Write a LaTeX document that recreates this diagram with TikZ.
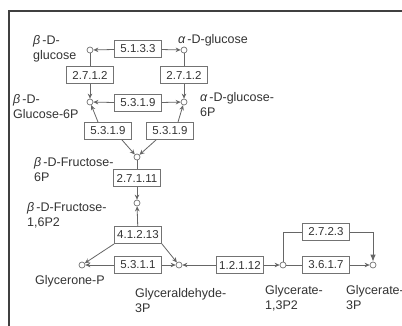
\documentclass[tikz,border=0pt]{standalone}
\usepackage{fontspec}
\setmainfont{Liberation Sans}
\usetikzlibrary{arrows.meta}
\begin{document}
\begin{tikzpicture}[x=1pt,y=-1pt,
  cpd/.style={circle,draw=black!55,line width=0.7pt,fill=white,minimum size=6pt,inner sep=0pt},
  enz/.style={draw=black!55,line width=0.9pt,fill=white,minimum width=47pt,minimum height=17pt,inner sep=0pt,font=\fontsize{11.5}{13}\selectfont,text=black!80},
  lbl/.style={inner sep=0pt,align=left,font=\fontsize{12.5}{15}\selectfont,text=black!80},
  rx/.style={draw=black!60,line width=0.8pt},
  arr/.style={-{Stealth[length=5pt,width=4.5pt]}},
]
\useasboundingbox (0,0) rectangle (402,325);
\clip (0,0) rectangle (402,325);
\fill[white] (0,0) rectangle (402,325);
\draw[black!75,line width=1.5pt] (9,11) rectangle (430,350);

% compounds
\node[cpd] (bglc) at (90,50) {};
\node[cpd] (aglc) at (184,50) {};
\node[cpd] (bg6p) at (90,102) {};
\node[cpd] (ag6p) at (184,102) {};
\node[cpd] (f6p) at (137,157) {};
\node[cpd] (fbp) at (137,203) {};
\node[cpd] (gnp) at (82,265) {};
\node[cpd] (gap) at (179,265) {};
\node[cpd] (bpg) at (283,265) {};
\node[cpd] (g3p) at (373,265) {};

% enzymes
\node[enz] (e5133) at (138,49) {5.1.3.3};
\node[enz] (e2712a) at (90,75) {2.7.1.2};
\node[enz] (e2712b) at (184,75) {2.7.1.2};
\node[enz] (e5319a) at (138,103) {5.3.1.9};
\node[enz] (e5319b) at (108,131) {5.3.1.9};
\node[enz] (e5319c) at (170,131) {5.3.1.9};
\node[enz] (e27111) at (137,178) {2.7.1.11};
\node[enz] (e41213) at (138,235) {4.1.2.13};
\node[enz] (e5311) at (138,265) {5.3.1.1};
\node[enz] (e12112) at (240,265) {1.2.1.12};
\node[enz] (e3617) at (326,265) {3.6.1.7};
\node[enz] (e2723) at (326,232) {2.7.2.3};

% reactions
\draw[rx,arr] (e5133) -- (bglc);
\draw[rx,arr] (e5133) -- (aglc);
\draw[rx] (bglc) -- (e2712a);
\draw[rx,arr] (e2712a) -- (bg6p);
\draw[rx] (aglc) -- (e2712b);
\draw[rx,arr] (e2712b) -- (ag6p);
\draw[rx,arr] (e5319a) -- (bg6p);
\draw[rx,arr] (e5319a) -- (ag6p);
\draw[rx,arr] ([xshift=-10pt]e5319b.north) -- (bg6p);
\draw[rx,arr] ([xshift=14pt]e5319b.south) -- (f6p);
\draw[rx,arr] ([xshift=8pt]e5319c.north) -- (ag6p);
\draw[rx,arr] ([xshift=-14pt]e5319c.south) -- (f6p);
\draw[rx] (f6p) -- (e27111);
\draw[rx,arr] (e27111) -- (fbp);
\draw[rx,arr] (e41213) -- (fbp);
\draw[rx,arr] (e41213.south west) -- (gnp);
\draw[rx,arr] (e41213.south east) -- (gap);
\draw[rx,arr] (e5311) -- (gnp);
\draw[rx,arr] (e5311) -- (gap);
\draw[rx,arr] (e12112) -- (gap);
\draw[rx,arr] (e12112) -- (bpg);
\draw[rx] (bpg) -- (e3617);
\draw[rx,arr] (e3617) -- (g3p);
\draw[rx] (bpg) |- (e2723);
\draw[rx,line width=1pt,-{Latex[length=7pt,width=5.5pt]}] (e2723) -| (g3p);

% labels
\node[lbl,anchor=west] (Lbglc) at (33,48.5) {{\itshape β}\,-D-\\glucose};
\node[lbl,anchor=west] (Laglc) at (178,40) {{\itshape α}\,-D-glucose};
\node[lbl,anchor=west] (Lbg6p) at (13,106.5) {{\itshape β}\,-D-\\Glucose-6P};
\node[lbl,anchor=west] (Lag6p) at (200,105) {{\itshape α}\,-D-glucose-\\6P};
\node[lbl,anchor=west] (Lf6p) at (34,169.5) {{\itshape β}\,-D-Fructose-\\6P};
\node[lbl,anchor=west] (Lfbp) at (27,215.5) {{\itshape β}\,-D-Fructose-\\1,6P2};
\node[lbl,anchor=west] (Lgnp) at (35,281) {Glycerone-P};
\node[lbl,anchor=west] (Lgap) at (135,301) {Glyceraldehyde-\\3P};
\node[lbl,anchor=west] (Lbpg) at (265,298) {Glycerate-\\1,3P2};
\node[lbl,anchor=west] (Lg3p) at (346,298) {Glycerate-\\3P};
\end{tikzpicture}
\end{document}
